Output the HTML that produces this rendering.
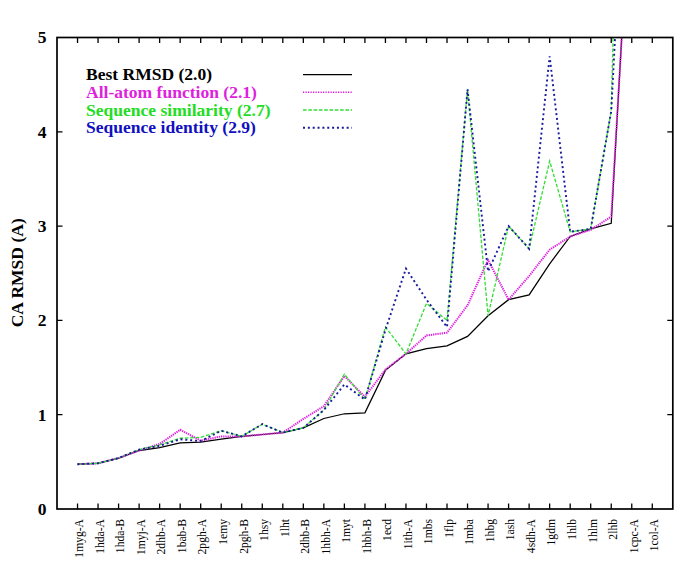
<!DOCTYPE html>
<html><head><meta charset="utf-8"><style>
html,body{margin:0;padding:0;background:#fff;}
svg{display:block;}
.wrap{width:685px;height:566px;}
text{font-family:"Liberation Serif",serif;}
</style></head><body><div class="wrap">
<svg width="685" height="566" viewBox="0 0 685 566">
<rect x="0" y="0" width="685" height="566" fill="#fff"/>
<defs><clipPath id="pc"><rect x="57.0" y="37.5" width="615.8100000000001" height="471.5"/></clipPath></defs>

<path d="M77.53,509.0v-5.5M77.53,37.5v5.5M98.05,509.0v-5.5M98.05,37.5v5.5M118.58,509.0v-5.5M118.58,37.5v5.5M139.11,509.0v-5.5M139.11,37.5v5.5M159.63,509.0v-5.5M159.63,37.5v5.5M180.16,509.0v-5.5M180.16,37.5v5.5M200.69,509.0v-5.5M200.69,37.5v5.5M221.22,509.0v-5.5M221.22,37.5v5.5M241.74,509.0v-5.5M241.74,37.5v5.5M262.27,509.0v-5.5M262.27,37.5v5.5M282.80,509.0v-5.5M282.80,37.5v5.5M303.32,509.0v-5.5M303.32,37.5v5.5M323.85,509.0v-5.5M323.85,37.5v5.5M344.38,509.0v-5.5M344.38,37.5v5.5M364.91,509.0v-5.5M364.91,37.5v5.5M385.43,509.0v-5.5M385.43,37.5v5.5M405.96,509.0v-5.5M405.96,37.5v5.5M426.49,509.0v-5.5M426.49,37.5v5.5M447.01,509.0v-5.5M447.01,37.5v5.5M467.54,509.0v-5.5M467.54,37.5v5.5M488.07,509.0v-5.5M488.07,37.5v5.5M508.59,509.0v-5.5M508.59,37.5v5.5M529.12,509.0v-5.5M529.12,37.5v5.5M549.65,509.0v-5.5M549.65,37.5v5.5M570.18,509.0v-5.5M570.18,37.5v5.5M590.70,509.0v-5.5M590.70,37.5v5.5M611.23,509.0v-5.5M611.23,37.5v5.5M631.76,509.0v-5.5M631.76,37.5v5.5M652.28,509.0v-5.5M652.28,37.5v5.5M57.0,414.70h5.5M672.8100000000001,414.70h-5.5M57.0,320.40h5.5M672.8100000000001,320.40h-5.5M57.0,226.10h5.5M672.8100000000001,226.10h-5.5M57.0,131.80h5.5M672.8100000000001,131.80h-5.5" stroke="#000" stroke-width="1.3" fill="none"/>
<g clip-path="url(#pc)" fill="none" stroke-linejoin="miter">
<polyline points="77.53,464.21 98.05,463.26 118.58,458.08 139.11,450.53 159.63,447.70 180.16,442.99 200.69,442.05 221.22,439.22 241.74,436.39 262.27,434.50 282.80,432.62 303.32,427.90 323.85,418.47 344.38,413.76 364.91,412.81 385.43,370.38 405.96,353.88 426.49,348.69 447.01,345.86 467.54,336.43 488.07,315.69 508.59,299.65 529.12,294.94 549.65,263.82 570.18,236.47 590.70,228.93 611.23,223.27 631.76,-141.67 652.28,-622.60" stroke="#000" stroke-width="1.25"/>
<polyline points="77.53,464.21 98.05,463.26 118.58,458.08 139.11,450.53 159.63,443.93 180.16,429.79 200.69,440.63 221.22,436.39 241.74,436.39 262.27,434.50 282.80,432.62 303.32,418.94 323.85,406.21 344.38,376.04 364.91,396.78 385.43,369.44 405.96,353.88 426.49,335.49 447.01,332.66 467.54,305.31 488.07,260.05 508.59,299.65 529.12,276.08 549.65,249.68 570.18,236.47 590.70,229.87 611.23,216.67 631.76,-132.24 652.28,-622.60" stroke="#e020e0" stroke-width="2" stroke-dasharray="1.3,0.9"/>
<polyline points="77.53,464.21 98.05,463.26 118.58,458.08 139.11,449.59 159.63,444.88 180.16,438.27 200.69,437.33 221.22,430.73 241.74,436.39 262.27,424.13 282.80,432.62 303.32,427.90 323.85,409.99 344.38,374.15 364.91,399.61 385.43,327.00 405.96,353.88 426.49,303.43 447.01,320.40 467.54,89.37 488.07,315.69 508.59,226.10 529.12,248.73 549.65,161.03 570.18,231.76 590.70,228.93 611.23,111.05 631.76,-716.90 652.28,-716.90" stroke="#33dd33" stroke-width="1.3" stroke-dasharray="3.6,1.7"/>
<polyline points="77.53,464.21 98.05,463.26 118.58,458.08 139.11,449.59 159.63,445.82 180.16,439.22 200.69,441.10 221.22,430.73 241.74,436.39 262.27,424.13 282.80,432.62 303.32,427.90 323.85,409.99 344.38,384.52 364.91,399.61 385.43,329.83 405.96,268.54 426.49,299.65 447.01,327.00 467.54,89.37 488.07,271.36 508.59,226.10 529.12,248.73 549.65,56.36 570.18,231.76 590.70,228.93 611.23,111.05 631.76,-283.12 652.28,-622.60" stroke="#1a1a9c" stroke-width="1.9" stroke-dasharray="2,2.85"/>
</g>
<rect x="57.0" y="37.5" width="615.81" height="471.50" fill="none" stroke="#000" stroke-width="1.7"/>
<text x="86" y="80.2" font-size="17.55" font-weight="bold" fill="#000">Best RMSD (2.0)</text>
<line x1="303" y1="74.6" x2="352" y2="74.6" stroke="#000" stroke-width="1.25"/>
<text x="86" y="97.9" font-size="17.55" font-weight="bold" fill="#dd22dd">All-atom function (2.1)</text>
<line x1="303" y1="92.3" x2="352" y2="92.3" stroke="#e018e0" stroke-width="1.6" stroke-dasharray="1.25,1.25"/>
<text x="86" y="115.6" font-size="17.55" font-weight="bold" fill="#22dd22">Sequence similarity (2.7)</text>
<line x1="303" y1="110.0" x2="352" y2="110.0" stroke="#33dd33" stroke-width="1.3" stroke-dasharray="3.6,1.7"/>
<text x="86" y="133.3" font-size="17.55" font-weight="bold" fill="#1010c0">Sequence identity (2.9)</text>
<line x1="303" y1="127.7" x2="352" y2="127.7" stroke="#1a1a9c" stroke-width="1.9" stroke-dasharray="2,2.85"/>
<text x="46.5" y="514.8" font-size="17.55" font-weight="bold" text-anchor="end">0</text>
<text x="46.5" y="420.5" font-size="17.55" font-weight="bold" text-anchor="end">1</text>
<text x="46.5" y="326.2" font-size="17.55" font-weight="bold" text-anchor="end">2</text>
<text x="46.5" y="231.9" font-size="17.55" font-weight="bold" text-anchor="end">3</text>
<text x="46.5" y="137.6" font-size="17.55" font-weight="bold" text-anchor="end">4</text>
<text x="46.5" y="43.3" font-size="17.55" font-weight="bold" text-anchor="end">5</text>
<text transform="translate(22.5,272.8) rotate(-90)" font-size="17.55" font-weight="bold" text-anchor="middle">CA RMSD (A)</text>
<text transform="translate(83.33,519) rotate(-90)" font-size="11.6" text-anchor="end">1myg-A</text>
<text transform="translate(103.85,519) rotate(-90)" font-size="11.6" text-anchor="end">1hda-A</text>
<text transform="translate(124.38,519) rotate(-90)" font-size="11.6" text-anchor="end">1hda-B</text>
<text transform="translate(144.91,519) rotate(-90)" font-size="11.6" text-anchor="end">1myj-A</text>
<text transform="translate(165.44,519) rotate(-90)" font-size="11.6" text-anchor="end">2dhb-A</text>
<text transform="translate(185.96,519) rotate(-90)" font-size="11.6" text-anchor="end">1bab-B</text>
<text transform="translate(206.49,519) rotate(-90)" font-size="11.6" text-anchor="end">2pgh-A</text>
<text transform="translate(227.02,519) rotate(-90)" font-size="11.6" text-anchor="end">1emy</text>
<text transform="translate(247.54,519) rotate(-90)" font-size="11.6" text-anchor="end">2pgh-B</text>
<text transform="translate(268.07,519) rotate(-90)" font-size="11.6" text-anchor="end">1hsy</text>
<text transform="translate(288.60,519) rotate(-90)" font-size="11.6" text-anchor="end">1lht</text>
<text transform="translate(309.12,519) rotate(-90)" font-size="11.6" text-anchor="end">2dhb-B</text>
<text transform="translate(329.65,519) rotate(-90)" font-size="11.6" text-anchor="end">1hbh-A</text>
<text transform="translate(350.18,519) rotate(-90)" font-size="11.6" text-anchor="end">1myt</text>
<text transform="translate(370.71,519) rotate(-90)" font-size="11.6" text-anchor="end">1hbh-B</text>
<text transform="translate(391.23,519) rotate(-90)" font-size="11.6" text-anchor="end">1ecd</text>
<text transform="translate(411.76,519) rotate(-90)" font-size="11.6" text-anchor="end">1ith-A</text>
<text transform="translate(432.29,519) rotate(-90)" font-size="11.6" text-anchor="end">1mbs</text>
<text transform="translate(452.81,519) rotate(-90)" font-size="11.6" text-anchor="end">1flp</text>
<text transform="translate(473.34,519) rotate(-90)" font-size="11.6" text-anchor="end">1mba</text>
<text transform="translate(493.87,519) rotate(-90)" font-size="11.6" text-anchor="end">1hbg</text>
<text transform="translate(514.39,519) rotate(-90)" font-size="11.6" text-anchor="end">1ash</text>
<text transform="translate(534.92,519) rotate(-90)" font-size="11.6" text-anchor="end">4sdh-A</text>
<text transform="translate(555.45,519) rotate(-90)" font-size="11.6" text-anchor="end">1gdm</text>
<text transform="translate(575.98,519) rotate(-90)" font-size="11.6" text-anchor="end">1hlb</text>
<text transform="translate(596.50,519) rotate(-90)" font-size="11.6" text-anchor="end">1hlm</text>
<text transform="translate(617.03,519) rotate(-90)" font-size="11.6" text-anchor="end">2lhb</text>
<text transform="translate(637.56,519) rotate(-90)" font-size="11.6" text-anchor="end">1cpc-A</text>
<text transform="translate(658.08,519) rotate(-90)" font-size="11.6" text-anchor="end">1col-A</text>
</svg></div></body></html>
